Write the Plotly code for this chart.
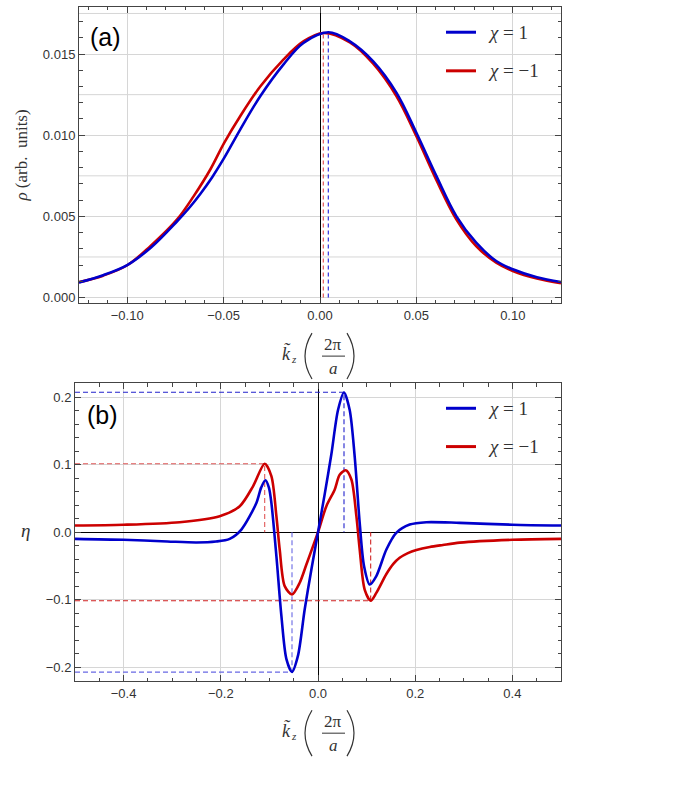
import plotly.graph_objects as go

W, H = 695, 807

# ---------------- data: panel (a) ----------------
a_blue_x = [-0.125, -0.1125, -0.1, -0.0875, -0.0741, -0.068, -0.062, -0.056, -0.0497, -0.0414,
            -0.031, -0.019, -0.0086, 0.0043, 0.0155, 0.0276, 0.0397, 0.05, 0.0604, 0.0707,
            0.081, 0.0914, 0.1, 0.1125, 0.125]
a_blue_rho = [0.00093, 0.00138, 0.0020, 0.0031, 0.0047, 0.0055, 0.0064, 0.0074, 0.0086, 0.01035,
              0.0124, 0.01435, 0.01568, 0.01634, 0.01578, 0.01455, 0.01261, 0.01015, 0.00748, 0.00502,
              0.00338, 0.00225, 0.00174, 0.00125, 0.00096]
a_red_x = [-0.125, -0.1125, -0.1, -0.088, -0.0741, -0.0655, -0.0569, -0.0497, -0.0414, -0.031,
           -0.019, -0.0086, 0.0017, 0.0155, 0.0276, 0.0397, 0.05, 0.0604, 0.0707, 0.081,
           0.0914, 0.1, 0.1125, 0.125]
a_red_rho = [0.00095, 0.00135, 0.00199, 0.00317, 0.00482, 0.00625, 0.00789, 0.00953, 0.01117, 0.0130,
             0.01466, 0.01578, 0.0163, 0.01572, 0.01441, 0.0124, 0.00994, 0.00723, 0.00482, 0.00317,
             0.00215, 0.00164, 0.00117, 0.00088]
a_peak_x = [0.0043, 0.0017]          # blue, red
a_peak_rho = [0.01634, 0.0163]

# ---------------- data: panel (b) ----------------
b_blue_x = [-0.5, -0.4, -0.31, -0.25, -0.21, -0.1817, -0.1577, -0.1268, -0.117, -0.1083,
            -0.101, -0.0959, -0.0856, -0.0753, -0.065, -0.0535, -0.0412, -0.0274, -0.0136, 0.0,
            0.0137, 0.0274, 0.0412, 0.0535, 0.0652, 0.0755, 0.0858, 0.0947, 0.1064, 0.120,
            0.1407, 0.161, 0.1887, 0.223, 0.2916, 0.4, 0.5]
b_blue_eta = [-0.0099, -0.0113, -0.0138, -0.0152, -0.0138, -0.0099, 0.0039, 0.0433, 0.066, 0.0769,
              0.066, 0.0433, -0.0355, -0.124, -0.188, -0.207, -0.183, -0.1145, -0.0553, 0.0,
              0.056, 0.115, 0.181, 0.207, 0.181, 0.112, 0.0138, -0.050, -0.0775, -0.065,
              -0.0257, -0.001, 0.0113, 0.0148, 0.0138, 0.011, 0.0098]
b_red_x = [-0.5, -0.4, -0.2846, -0.2023, -0.161, -0.1337, -0.1097, -0.0959, -0.0856, -0.0788,
           -0.0685, -0.0535, -0.0377, -0.0239, 0.0, 0.0172, 0.0343, 0.0446, 0.057, 0.0687,
           0.079, 0.0858, 0.096, 0.1084, 0.120, 0.1407, 0.155, 0.168, 0.185, 0.2025,
           0.23, 0.257, 0.2916, 0.4, 0.5]
b_red_eta = [0.0098, 0.011, 0.0148, 0.0237, 0.0385, 0.068, 0.1015, 0.083, 0.0237, -0.0257,
             -0.080, -0.0923, -0.075, -0.048, 0.0, 0.0385, 0.063, 0.085, 0.0917, 0.078,
             0.0237, -0.0257, -0.085, -0.1016, -0.090, -0.062, -0.047, -0.038, -0.031, -0.0265,
             -0.022, -0.019, -0.0155, -0.0113, -0.0099]
b_blue_ext_x = [0.0535, -0.0535]
b_blue_ext_eta = [0.2074, -0.2074]
b_red_ext_x = [-0.1097, 0.1084]
b_red_ext_eta = [0.1015, -0.1016]

series_names = ["<i>χ</i> = 1", "<i>χ</i> = −1"]
BLUE, RED = "#0000CC", "#CC0000"

A_XR = [-0.125, 0.125]
A_YR = [-0.00035, 0.0179]
B_XR = [-0.5, 0.5]
B_YR = [-0.221, 0.221]


def px(x):
    return x / W


def py(y):
    return 1 - y / H


fig = go.Figure()

# dashed guide lines panel (a)
for xv, yv, col in zip(a_peak_x, a_peak_rho, ["#2020DD", "#E04848"]):
    fig.add_trace(go.Scatter(x=[xv, xv], y=[0, yv], mode="lines", xaxis="x", yaxis="y",
                             line=dict(color=col, width=1.1, dash="4px,3px"), showlegend=False,
                             hoverinfo="skip"))

# dashed guide lines panel (b)
guide_cols = [["#2222CC", "#6868E4"], ["#E05858", "#D02222"]]
for exs, eys, cols in [(b_blue_ext_x, b_blue_ext_eta, guide_cols[0]),
                       (b_red_ext_x, b_red_ext_eta, guide_cols[1])]:
    for xv, yv, col in zip(exs, eys, cols):
        fig.add_trace(go.Scatter(x=[B_XR[0], xv, xv], y=[yv, yv, 0], mode="lines",
                                 xaxis="x2", yaxis="y2",
                                 line=dict(color=col, width=1.1, dash="5px,3px"),
                                 showlegend=False, hoverinfo="skip"))

# curves
fig.add_trace(go.Scatter(x=a_red_x, y=a_red_rho, mode="lines", xaxis="x", yaxis="y",
                         line=dict(color=RED, width=2.6, shape="spline", smoothing=1.0),
                         showlegend=False))
fig.add_trace(go.Scatter(x=a_blue_x, y=a_blue_rho, mode="lines", xaxis="x", yaxis="y",
                         line=dict(color=BLUE, width=2.6, shape="spline", smoothing=1.0),
                         showlegend=False))
fig.add_trace(go.Scatter(x=b_red_x, y=b_red_eta, mode="lines", xaxis="x2", yaxis="y2",
                         line=dict(color=RED, width=2.6, shape="spline", smoothing=0.8),
                         showlegend=False))
fig.add_trace(go.Scatter(x=b_blue_x, y=b_blue_eta, mode="lines", xaxis="x2", yaxis="y2",
                         line=dict(color=BLUE, width=2.6, shape="spline", smoothing=0.8),
                         showlegend=False))

FRAME = "#444444"
GRID = "#d6d6d6"
tickfont = dict(family="Liberation Sans, Arial, sans-serif", size=13, color="#333333")


def axis(domain, anchor, rng, dtick, fmt, minor_dtick, zeroline, showgrid=True):
    return dict(domain=domain, anchor=anchor, range=rng, dtick=dtick, tick0=0, tickformat=fmt,
                ticks="inside", ticklen=6, tickwidth=1, tickcolor=FRAME,
                showline=True, linecolor=FRAME, linewidth=1, mirror="allticks",
                showgrid=showgrid, gridcolor=GRID, gridwidth=1,
                zeroline=zeroline, zerolinecolor="black", zerolinewidth=1,
                minor=dict(dtick=minor_dtick, tick0=0, ticks="inside", ticklen=3.5,
                           tickcolor=FRAME, showgrid=False),
                tickfont=tickfont, fixedrange=True)


fig.update_layout(
    width=W, height=H, margin=dict(l=0, r=0, t=0, b=0),
    paper_bgcolor="white", plot_bgcolor="white", showlegend=False,
    xaxis=axis([px(79), px(561)], "y", A_XR, 0.05, ".2f", 0.01, True),
    yaxis=axis([py(304), py(7)], "x", A_YR, 0.005, ".3f", 0.001, False),
    xaxis2=axis([px(75), px(561)], "y2", B_XR, 0.2, ".1f", 0.05, True),
    yaxis2=axis([py(683), py(384)], "x2", B_YR, 0.1, ".1f", 0.02, True),
)

shapes = []
annotations = []

# extra horizontal gridlines in panel (a) at half steps
for k in range(4):
    yv = 0.0025 + 0.005 * k
    shapes.append(dict(type="line", xref="x domain", yref="y", x0=0, x1=1, y0=yv, y1=yv,
                       line=dict(color=GRID, width=1), layer="below"))

# legends
serif = "Liberation Serif, Times New Roman, serif"
for (y1, y2) in [(32.3, 71.0), (409.3, 447.7)]:
    for yy, col, name in [(y1, BLUE, series_names[0]), (y2, RED, series_names[1])]:
        shapes.append(dict(type="line", xref="paper", yref="paper", x0=px(446), x1=px(476),
                           y0=py(yy), y1=py(yy), line=dict(color=col, width=3)))
        annotations.append(dict(text=name, xref="paper", yref="paper", x=px(486), y=py(yy),
                                xanchor="left", yanchor="middle", showarrow=False,
                                font=dict(family=serif, size=19, color="#333333")))

# panel labels
for lbl, xx, yy in [("(a)", 105, 37), ("(b)", 102, 416)]:
    annotations.append(dict(text=lbl, xref="paper", yref="paper", x=px(xx), y=py(yy),
                            xanchor="center", yanchor="middle", showarrow=False,
                            font=dict(family="Liberation Sans, Arial, sans-serif", size=25,
                                      color="black")))

# y-axis titles
annotations.append(dict(text="<i>ρ</i> (arb.  units)", xref="paper", yref="paper",
                        x=px(22), y=py(156), textangle=-90, showarrow=False,
                        xanchor="center", yanchor="middle",
                        font=dict(family=serif, size=17, color="#333333")))
annotations.append(dict(text="<i>η</i>", xref="paper", yref="paper", x=px(25), y=py(532),
                        showarrow=False, xanchor="center", yanchor="middle",
                        font=dict(family=serif, size=19, color="#333333")))

# x-axis titles  k~_z (2π / a)
for line_y in [357, 735]:
    annotations.append(dict(text="<i>k\u0303</i>", xref="paper", yref="paper", x=px(286),
                            y=py(line_y - 3), showarrow=False, xanchor="center",
                            yanchor="middle", font=dict(family=serif, size=18, color="#333333")))
    annotations.append(dict(text="<i>z</i>", xref="paper", yref="paper", x=px(294),
                            y=py(line_y + 3), showarrow=False, xanchor="center",
                            yanchor="middle", font=dict(family=serif, size=11, color="#333333")))
    annotations.append(dict(text="2π", xref="paper", yref="paper", x=px(333),
                            y=py(line_y - 12), showarrow=False, xanchor="center",
                            yanchor="middle", font=dict(family=serif, size=17, color="#333333")))
    annotations.append(dict(text="<i>a</i>", xref="paper", yref="paper", x=px(333),
                            y=py(line_y + 12), showarrow=False, xanchor="center",
                            yanchor="middle", font=dict(family=serif, size=17, color="#333333")))
    shapes.append(dict(type="line", xref="paper", yref="paper", x0=px(322), x1=px(345),
                       y0=py(line_y), y1=py(line_y), line=dict(color="#333333", width=1)))
    top, bot = line_y - 23, line_y + 23
    for x_end, x_ctrl in [(312, 298), (347, 361)]:
        path = "M %.5f,%.5f Q %.5f,%.5f %.5f,%.5f" % (px(x_end), py(top), px(x_ctrl), py(line_y),
                                                     px(x_end), py(bot))
        shapes.append(dict(type="path", xref="paper", yref="paper", path=path,
                           line=dict(color="#333333", width=1.2)))

fig.update_layout(shapes=shapes, annotations=annotations)
fig.write_html("out.html")
